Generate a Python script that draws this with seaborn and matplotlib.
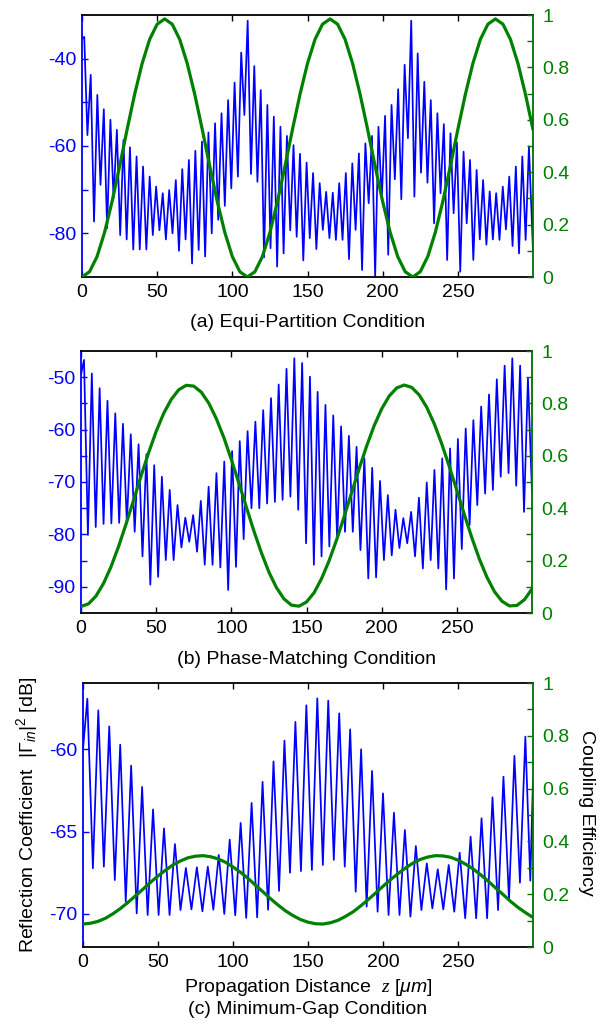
import matplotlib
matplotlib.use("Agg")
import matplotlib.pyplot as plt
import seaborn as sns
import pandas as pd

# ---------------- data ----------------
Z_TICKS = [0, 50, 100, 150, 200, 250]
CE_Z = list(range(0, 301, 5))

# (a) Equi-Partition
A_PEAK_Z = [1.5, 5.8, 10.2, 14.5, 18.9, 23.2, 27.6, 31.9, 36.3, 40.6, 45.0, 49.3, 53.7, 58.0, 62.4, 66.7, 71.1,
            75.4, 79.8, 84.1, 88.5, 92.8, 97.2, 101.5, 105.9, 110.2, 114.6, 118.9, 123.3, 127.6, 132.0, 136.3,
            140.7, 145.0, 149.4, 153.7, 158.1, 162.4, 166.8, 171.1, 175.5, 179.8, 184.2, 188.5, 192.9, 197.2,
            201.6, 205.9, 210.3, 214.6, 219.0, 223.3, 227.7, 232.0, 236.4, 240.7, 245.1, 249.4, 253.8, 258.1,
            262.5, 266.8, 271.2, 275.5, 279.9, 284.2, 288.6, 292.9, 297.3]
A_PEAK_DB = [-35.0, -43.7, -48.3, -51.6, -54.0, -56.3, -58.6, -60.3, -62.4, -64.7, -67.0, -69.3, -70.8, -70.1,
             -67.8, -65.3, -63.2, -61.1, -59.0, -56.9, -54.8, -52.5, -49.5, -45.5, -38.6, -31.3, -41.7, -47.2,
             -50.6, -53.3, -55.6, -57.7, -59.8, -61.8, -63.8, -66.2, -68.5, -70.5, -70.7, -68.5, -66.2, -64.0,
             -61.7, -59.4, -57.7, -55.6, -53.1, -50.6, -47.0, -41.4, -31.3, -38.8, -45.3, -49.5, -52.5, -55.0,
             -57.1, -59.2, -61.3, -63.2, -65.5, -67.8, -70.4, -70.8, -69.3, -67.0, -64.7, -62.4, -60.1]
A_DIP_Z = [0.0, 3.6, 8.0, 12.3, 16.7, 21.0, 25.4, 29.7, 34.1, 38.4, 42.8, 47.1, 51.5, 55.8, 60.2, 64.5, 68.9,
           73.2, 77.6, 81.9, 86.3, 90.6, 95.0, 99.3, 103.7, 108.0, 112.4, 116.7, 121.1, 125.4, 129.8, 134.1,
           138.5, 142.8, 147.2, 151.5, 155.9, 160.2, 164.6, 168.9, 173.3, 177.6, 182.0, 186.3, 190.7, 195.0,
           199.4, 203.7, 208.1, 212.4, 216.8, 221.1, 225.5, 229.8, 234.2, 238.5, 242.9, 247.2, 251.6, 255.9,
           260.3, 264.6, 269.0, 273.3, 277.7, 282.0, 286.4, 290.7, 295.1, 300.0]
A_DIP_DB = [-35.5, -57.5, -77.3, -68.9, -78.8, -72.0, -80.4, -81.4, -83.7, -83.7, -83.7, -80.4, -79.3, -81.4,
            -80.0, -84.0, -81.4, -86.9, -83.8, -85.3, -80.0, -76.9, -73.7, -69.7, -67.0, -52.9, -66.4, -68.2,
            -85.5, -83.4, -87.6, -84.6, -79.3, -80.8, -86.2, -81.1, -83.6, -79.2, -81.1, -81.5, -81.5, -85.9,
            -79.2, -88.4, -73.1, -89.9, -72.3, -84.9, -67.6, -72.2, -58.2, -71.6, -66.1, -68.4, -77.7, -70.8,
            -86.1, -75.4, -88.8, -77.7, -86.1, -81.4, -82.6, -81.4, -81.5, -79.1, -82.9, -84.6, -81.5, -84.0]
A_CE = [0.000, 0.020, 0.078, 0.170, 0.288, 0.422, 0.563, 0.697, 0.815, 0.907, 0.965, 0.985, 0.965, 0.907,
        0.815, 0.697, 0.563, 0.422, 0.288, 0.170, 0.078, 0.020, 0.000, 0.020, 0.078, 0.170, 0.288, 0.422,
        0.563, 0.697, 0.815, 0.907, 0.965, 0.985, 0.965, 0.907, 0.815, 0.697, 0.563, 0.422, 0.288, 0.170,
        0.078, 0.020, 0.000, 0.020, 0.078, 0.170, 0.288, 0.422, 0.563, 0.697, 0.815, 0.907, 0.965, 0.985,
        0.965, 0.907, 0.815, 0.697, 0.563]

# (b) Phase-Matching
B_PEAK_Z = [2.0, 7.2, 12.4, 17.6, 22.8, 27.9, 33.1, 38.3, 43.5, 48.7, 53.8, 59.0, 64.2, 69.4, 74.6, 79.7, 84.9,
            90.1, 95.3, 100.5, 105.6, 110.8, 116.0, 121.2, 126.4, 131.5, 136.7, 141.9, 147.1, 152.3, 157.4,
            162.6, 167.8, 173.0, 178.2, 183.3, 188.5, 193.7, 198.9, 204.1, 209.2, 214.4, 219.6, 224.8, 230.0,
            235.1, 240.3, 245.5, 250.7, 255.9, 261.0, 266.2, 271.4, 276.6, 281.8, 286.9, 292.1, 297.3]
B_PEAK_DB = [-46.7, -49.3, -52.1, -54.5, -56.9, -58.9, -60.9, -62.8, -64.7, -66.8, -69.0, -71.5, -74.4, -76.8,
             -76.3, -73.6, -70.9, -68.3, -66.1, -64.1, -62.2, -60.3, -58.5, -56.3, -54.0, -51.4, -48.4, -46.4,
             -47.3, -49.9, -52.8, -55.3, -57.3, -59.4, -61.2, -63.3, -65.5, -67.3, -69.8, -72.5, -75.3, -76.9,
             -75.7, -73.0, -70.1, -67.7, -65.5, -63.6, -61.8, -59.8, -58.2, -55.6, -53.3, -50.4, -47.8, -46.4,
             -47.8, -50.2]
B_DIP_Z = [0.0, 4.6, 9.8, 15.0, 20.2, 25.4, 30.5, 35.7, 40.9, 46.1, 51.3, 56.4, 61.6, 66.8, 72.0, 77.2, 82.3,
           87.5, 92.7, 97.9, 103.1, 108.2, 113.4, 118.6, 123.8, 129.0, 134.1, 139.3, 144.5, 149.7, 154.9, 160.0,
           165.2, 170.4, 175.6, 180.8, 185.9, 191.1, 196.3, 201.5, 206.7, 211.8, 217.0, 222.2, 227.4, 232.6,
           237.7, 242.9, 248.1, 253.3, 258.5, 263.6, 268.8, 274.0, 279.2, 284.4, 289.5, 294.7, 300.0]
B_DIP_DB = [-49.5, -80.1, -78.6, -78.0, -77.9, -77.8, -77.8, -79.5, -84.2, -89.6, -88.1, -84.9, -84.9, -82.5,
            -81.4, -83.3, -85.8, -85.8, -86.3, -90.6, -86.2, -80.9, -75.0, -75.0, -74.1, -73.8, -73.4, -72.8,
            -75.3, -81.7, -85.8, -84.2, -82.3, -81.1, -79.5, -79.5, -83.0, -88.4, -88.2, -84.9, -84.0, -82.6,
            -81.7, -84.2, -86.5, -84.9, -86.5, -90.5, -88.4, -82.8, -78.2, -74.4, -72.2, -71.5, -69.0, -68.3,
            -70.7, -75.7, -72.0]
B_CE = [0.025, 0.035, 0.065, 0.113, 0.177, 0.254, 0.340, 0.431, 0.524, 0.612, 0.693, 0.762, 0.815, 0.852,
        0.869, 0.866, 0.843, 0.801, 0.742, 0.670, 0.586, 0.496, 0.404, 0.313, 0.230, 0.156, 0.097, 0.054,
        0.030, 0.026, 0.042, 0.077, 0.131, 0.199, 0.279, 0.367, 0.459, 0.550, 0.637, 0.715, 0.779, 0.828,
        0.859, 0.870, 0.861, 0.832, 0.785, 0.722, 0.645, 0.559, 0.468, 0.376, 0.287, 0.206, 0.137, 0.082,
        0.045, 0.027, 0.029, 0.051, 0.092]

# (c) Minimum-Gap
C_PEAK_Z = [2.9, 10.2, 17.5, 24.8, 32.1, 39.4, 46.7, 54.0, 61.3, 68.6, 75.9, 83.2, 90.5, 97.8, 105.1, 112.4,
            119.7, 127.0, 134.3, 141.6, 148.9, 156.2, 163.5, 170.8, 178.1, 185.4, 192.7, 200.0, 207.3, 214.6,
            221.9, 229.2, 236.5, 243.8, 251.1, 258.4, 265.7, 273.0, 280.3, 287.6, 294.9]
C_PEAK_DB = [-56.95, -57.66, -58.63, -59.74, -61.01, -62.30, -63.66, -64.81, -65.76, -67.21, -67.17, -67.13,
             -66.42, -65.49, -64.48, -63.27, -61.99, -60.75, -59.49, -58.36, -57.35, -56.93, -57.07, -57.84,
             -58.81, -60.02, -61.33, -62.69, -63.86, -64.91, -65.88, -66.93, -67.29, -67.03, -66.28, -65.31,
             -64.20, -62.93, -61.68, -60.42, -59.25]
C_DIP_Z = [0.0, 6.6, 13.9, 21.2, 28.5, 35.8, 43.1, 50.4, 57.7, 65.0, 72.3, 79.6, 86.9, 94.2, 101.5, 108.8,
           116.1, 123.4, 130.7, 138.0, 145.3, 152.6, 159.9, 167.2, 174.5, 181.8, 189.1, 196.4, 203.7, 211.0,
           218.3, 225.6, 232.9, 240.2, 247.5, 254.8, 262.1, 269.4, 276.7, 284.0, 291.3, 298.2, 300.0]
C_DIP_DB = [-60.0, -67.23, -67.13, -67.94, -69.25, -69.96, -70.06, -70.06, -70.06, -69.76, -69.72, -69.84,
            -69.74, -70.00, -70.08, -70.24, -70.20, -69.74, -68.60, -67.50, -67.40, -67.33, -67.03, -66.72,
            -67.13, -68.65, -69.55, -69.86, -70.06, -70.06, -70.16, -69.76, -69.66, -69.72, -69.86, -70.26,
            -70.26, -70.26, -69.76, -69.15, -68.10, -67.98, -61.80]
C_CE = [0.087, 0.090, 0.097, 0.109, 0.126, 0.146, 0.169, 0.194, 0.219, 0.245, 0.269, 0.291, 0.311, 0.326,
        0.338, 0.344, 0.346, 0.342, 0.334, 0.321, 0.303, 0.283, 0.260, 0.234, 0.209, 0.183, 0.159, 0.137,
        0.119, 0.104, 0.094, 0.088, 0.087, 0.092, 0.101, 0.116, 0.133, 0.155, 0.179, 0.204, 0.230, 0.255,
        0.278, 0.299, 0.318, 0.332, 0.341, 0.346, 0.345, 0.340, 0.329, 0.314, 0.296, 0.274, 0.250, 0.224,
        0.199, 0.173, 0.150, 0.130, 0.112]

CE_TICKS = [0, 0.1, 0.2, 0.3, 0.4, 0.5, 0.6, 0.7, 0.8, 0.9, 1.0]
CE_LABELS = ['0', '', '0.2', '', '0.4', '', '0.6', '', '0.8', '', '1']

# ---------------- style ----------------
sns.set_theme(style="white")
plt.rcParams['font.family'] = ['Liberation Sans', 'DejaVu Sans']
plt.rcParams['mathtext.fontset'] = 'custom'
plt.rcParams['mathtext.rm'] = 'Liberation Sans'
plt.rcParams['mathtext.it'] = 'Liberation Sans:italic'
plt.rcParams['mathtext.sf'] = 'Liberation Serif:italic'
plt.rcParams['axes.unicode_minus'] = False

BLUE = '#0000ff'
GREEN = '#008000'
GREEN_AX = '#007000'
FS = 14

W, H = 612, 1025
fig = plt.figure(figsize=(W / 100, H / 100), dpi=100)


def px_rect(l, r, t, b):
    return [l / W, 1 - b / H, (r - l) / W, (b - t) / H]


panels = [
    dict(pz=A_PEAK_Z, pdb=A_PEAK_DB, dz=A_DIP_Z, ddb=A_DIP_DB, ce=A_CE, ylim=(-90, -30),
         yt=[-80, -70, -60, -50, -40], yl=['-80', '', '-60', '', '-40'],
         rect=px_rect(82, 533, 15, 277), cap='(a) Equi-Partition Condition', cap_y=322),
    dict(pz=B_PEAK_Z, pdb=B_PEAK_DB, dz=B_DIP_Z, ddb=B_DIP_DB, ce=B_CE, ylim=(-95, -45),
         yt=[-90, -85, -80, -75, -70, -65, -60, -55, -50],
         yl=['-90', '', '-80', '', '-70', '', '-60', '', '-50'],
         rect=px_rect(81, 532, 351, 613), cap='(b) Phase-Matching Condition', cap_y=659),
    dict(pz=C_PEAK_Z, pdb=C_PEAK_DB, dz=C_DIP_Z, ddb=C_DIP_DB, ce=C_CE, ylim=(-72, -56),
         yt=[-70, -65, -60], yl=['-70', '-65', '-60'],
         rect=px_rect(83, 533, 683, 947), cap='(c) Minimum-Gap Condition', cap_y=1010),
]

for i, p in enumerate(panels):
    ax = fig.add_axes(p['rect'])
    blue = pd.DataFrame({'z': p['pz'] + p['dz'], 'db': p['pdb'] + p['ddb']}).sort_values('z')
    sns.lineplot(data=blue, x='z', y='db', ax=ax, color=BLUE, lw=1.25, estimator=None, sort=True)
    ax2 = ax.twinx()
    green = pd.DataFrame({'z': CE_Z, 'ce': p['ce']})
    sns.lineplot(data=green, x='z', y='ce', ax=ax2, color=GREEN, lw=2.3, estimator=None, sort=True)

    ax.set_xlim(0, 300)
    ax.set_ylim(*p['ylim'])
    ax2.set_ylim(0, 1)
    ax.set_xticks(Z_TICKS)
    ax.set_xticklabels([str(t) for t in Z_TICKS])
    ax.set_yticks(p['yt'])
    ax.set_yticklabels(p['yl'])
    ax2.set_yticks(CE_TICKS)
    ax2.set_yticklabels(CE_LABELS)
    ax.set_xlabel('')
    ax.set_ylabel('')
    ax2.set_ylabel('')

    for s in ['top', 'bottom']:
        ax.spines[s].set_color('black')
        ax.spines[s].set_linewidth(1.3)
    ax.spines['left'].set_color(BLUE)
    ax.spines['left'].set_linewidth(1.3)
    ax.spines['right'].set_visible(False)
    for s in ['top', 'bottom', 'left']:
        ax2.spines[s].set_visible(False)
    ax2.spines['right'].set_color(GREEN_AX)
    ax2.spines['right'].set_linewidth(1.3)

    ax.tick_params(axis='x', direction='in', top=True, bottom=True, length=4, width=1,
                   colors='black', labelsize=FS, pad=5)
    ax.tick_params(axis='y', direction='in', left=True, right=False, length=4, width=1,
                   colors=BLUE, labelsize=FS, pad=4)
    ax2.tick_params(axis='y', direction='in', right=True, left=False, length=4, width=1,
                    colors=GREEN_AX, labelcolor=GREEN, labelsize=FS, pad=7)
    ax.grid(False)
    ax2.grid(False)
    ax.set_facecolor('none')

    cx = (p['rect'][0] + p['rect'][2] / 2)
    fig.text(cx, 1 - p['cap_y'] / H, p['cap'], ha='center', va='center', fontsize=FS, color='black')

    if i == 2:
        fig.text(cx, 1 - 988 / H, r'Propagation Distance  $\mathsf{z}$ [$\mu m$]', ha='center',
                 va='center', fontsize=FS, color='black')
        fig.text(27 / W, 1 - 815 / H, r'Reflection Coefficient  $|\Gamma_{in}|^2$ [dB]', rotation=90,
                 ha='center', va='center', fontsize=FS, color='black')
        fig.text(587 / W, 1 - 813 / H, 'Coupling Efficiency', rotation=270,
                 ha='center', va='center', fontsize=FS, color='black')

fig.savefig('out.png', dpi=100)
